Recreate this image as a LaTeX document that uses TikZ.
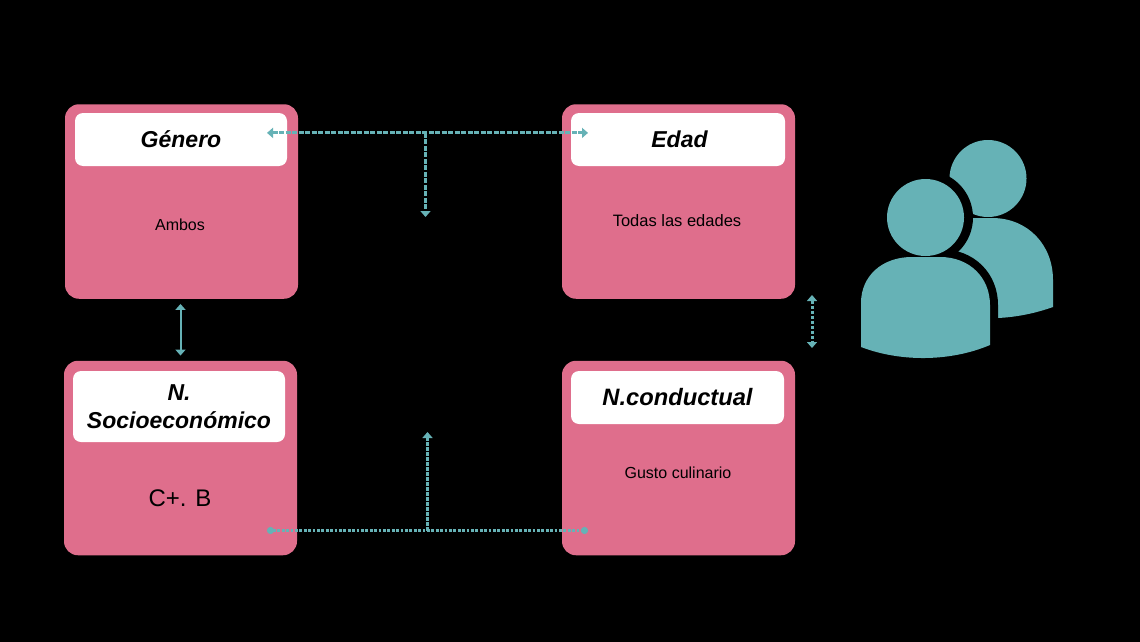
\documentclass[tikz,border=0pt]{standalone}
\usepackage{fontspec}
\setmainfont{Liberation Sans}
\usetikzlibrary{arrows.meta}
\definecolor{rosa}{HTML}{DF6E8C}
\definecolor{teal}{HTML}{66B2B6}
\tikzset{
  x=1pt,y=-1pt,
  panel/.style={fill=rosa,rounded corners=14pt,minimum width=233pt,minimum height=194.5pt,inner sep=0pt,anchor=center},
  headbox/.style={fill=white,rounded corners=8pt,inner sep=0pt,align=center,text=black,font=\fontsize{23}{27.5}\selectfont\bfseries\itshape,anchor=center},
  bodytext/.style={text=black,inner sep=0pt,anchor=center},
  dotline/.style={draw=teal,line width=3pt,dash pattern=on 5pt off 1.5pt},
  triboth/.style={{Triangle[width=10pt,length=6pt]}-{Triangle[width=10pt,length=6pt]}},
  tri/.style={-{Triangle[width=10pt,length=6pt]}},
  dia/.style={{Circle[length=7pt,width=7pt]}-{Circle[length=7pt,width=7pt]}},
  fig/.style={fill=teal,draw=none},
  halo/.style={fill=black,draw=black,line width=16pt,line join=round}
}
\begin{document}
\begin{tikzpicture}
\useasboundingbox[fill=black] (0,0) rectangle (1140,642);
% panels
\node[panel] (genero) at (181.5,201.5) {};
\node[panel] (edad) at (678.5,201.5) {};
\node[panel] (socio) at (180.5,458) {};
\node[panel] (cond) at (678.5,458) {};
% headers
\node[headbox,minimum width=212pt,minimum height=53pt] (hgen) at (181,139.5) {\raisebox{0.8pt}{Género}};
\node[headbox,minimum width=214pt,minimum height=53pt] (hedad) at (678,139.5) {\raisebox{0.8pt}{\hspace{3pt}Edad}};
\node[headbox,minimum width=212pt,minimum height=71pt] (hsocio) at (179,406.5) {N.\\Socioeconómico};
\node[headbox,minimum width=213pt,minimum height=53pt,font=\fontsize{23.7}{27.5}\selectfont\bfseries\itshape] (hcond) at (677.5,397.5) {\raisebox{0.8pt}{N.conductual}};
% body text
\node[bodytext,font=\fontsize{16}{19}\selectfont] (tgen) at (180,225) {Ambos};
\node[bodytext,font=\fontsize{16.5}{19}\selectfont] (tedad) at (677,221) {Todas las edades};
\node[bodytext,font=\fontsize{24}{27}\selectfont] (tsocio) at (180,498) {C+. B};
\node[bodytext,font=\fontsize{16}{19}\selectfont] (tcond) at (678,473) {Gusto culinario};
% connector ends
\coordinate (tl) at (267,132.9);
\coordinate (tr) at (588,132.9);
\coordinate (tm) at (425.5,132.9);
\coordinate (td) at (425.5,217);
\coordinate (bl) at (267,530.5);
\coordinate (br) at (588,530.5);
\coordinate (bm) at (427.5,530.5);
\coordinate (bu) at (427.5,432);
\coordinate (ru) at (812,295);
\coordinate (rd) at (812,348);
% connectors
\draw[dotline,triboth] (tl) -- (tr);
\draw[dotline,tri] (tm) -- (td);
\draw[dotline,dia,line width=2.2pt,dash pattern=on 2.8pt off 1.6pt] (bl) -- (br);
\draw[dotline,tri,dash pattern=on 3.5pt off 1.5pt] (bm) -- (bu);
\draw[dotline,triboth,dash pattern=on 3.5pt off 1.5pt] (ru) -- (rd);
\draw[draw=teal,line width=2pt,triboth,shorten <=5pt,shorten >=5pt] ([xshift=-1pt]genero.south) -- (socio.north);
% people: back figure
\path[fig] (988,178.5) circle[radius=38.5];
\path[fig] (998,318) .. controls (1018,317) and (1036,313) .. (1053,307)
  -- (1053,280) .. controls (1053,245) and (1028,218) .. (992,218)
  -- (965,218) -- (940,260) -- (998,318) -- cycle;
% people: gap round the front figure
\path[halo] (926,217.5) circle[radius=39];
\path[halo] (861,347) -- (861,303) .. controls (861,276) and (882,257) .. (912,257)
  -- (940,257) .. controls (970,257) and (990,278) .. (990,305) -- (990,345)
  .. controls (950,362) and (900,362) .. (861,347) -- cycle;
\path[fill=black] (930,330) rectangle (990,380);
% people: front figure
\path[fig] (925.5,217.5) circle[radius=38.5];
\path[fig] (861,347) -- (861,303) .. controls (861,276) and (882,257) .. (912,257)
  -- (940,257) .. controls (970,257) and (990,278) .. (990,305) -- (990,345)
  .. controls (950,362) and (900,362) .. (861,347) -- cycle;
\end{tikzpicture}
\end{document}
